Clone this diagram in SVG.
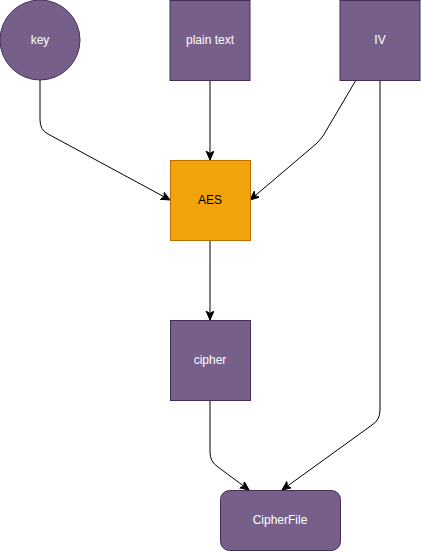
<svg xmlns="http://www.w3.org/2000/svg" width="421" height="551" viewBox="0 0 421 551">
<style>
.p{fill:#76608a;stroke:#432d57;stroke-width:1}
.a{fill:#f0a30a;stroke:#bd7000;stroke-width:1}
.t{font-family:"Liberation Sans",Arial,sans-serif;font-size:12px;fill:#ffffff;text-anchor:middle;dominant-baseline:central}
.ta{font-family:"Liberation Sans",Arial,sans-serif;font-size:12px;fill:#000000;text-anchor:middle;dominant-baseline:central}
.e{fill:none;stroke:#000000;stroke-width:1}
</style>
<defs>
<marker id="arr" markerUnits="userSpaceOnUse" markerWidth="12" markerHeight="10" refX="9" refY="4" orient="auto" viewBox="0 0 12 10">
<path d="M0,0 L9,4 L0,8 L2.5,4 Z" fill="#000" stroke="#000" stroke-width="1"/>
</marker>
</defs>
<rect width="421" height="551" fill="#ffffff"/>
<g id="edges">
<path class="e" d="M40,80 L40,120 Q40,130 48,134 L170,200" marker-end="url(#arr)"/>
<path class="e" d="M210,80 L210,160" marker-end="url(#arr)"/>
<path class="e" d="M356,80 L323,136 Q320,140 316,144 L250,200" marker-end="url(#arr)"/>
<path class="e" d="M380,80 L380,410 Q380,420 372,425 L282,490" marker-end="url(#arr)"/>
<path class="e" d="M210,240 L210,320" marker-end="url(#arr)"/>
<path class="e" d="M210,400 L210,452 Q210,462 218,467 L249,490" marker-end="url(#arr)"/>
</g>
<g id="key"><circle class="p" cx="40" cy="40" r="40"/><text class="t" x="40" y="40">key</text></g>
<g id="plaintext"><rect class="p" x="170" y="0.5" width="80" height="80"/><text class="t" x="210" y="40">plain text</text></g>
<g id="iv"><rect class="p" x="340" y="0.5" width="80" height="80"/><text class="t" x="380" y="40">IV</text></g>
<g id="aes"><rect class="a" x="170.5" y="160.5" width="80" height="80"/><text class="ta" x="210" y="200">AES</text></g>
<g id="cipher"><rect class="p" x="170.5" y="320.5" width="80" height="80"/><text class="t" x="210" y="360">cipher</text></g>
<g id="cipherfile"><rect class="p" x="220.5" y="490.5" width="120" height="60" rx="9" ry="9"/><text class="t" x="280" y="520">CipherFile</text></g>
</svg>
